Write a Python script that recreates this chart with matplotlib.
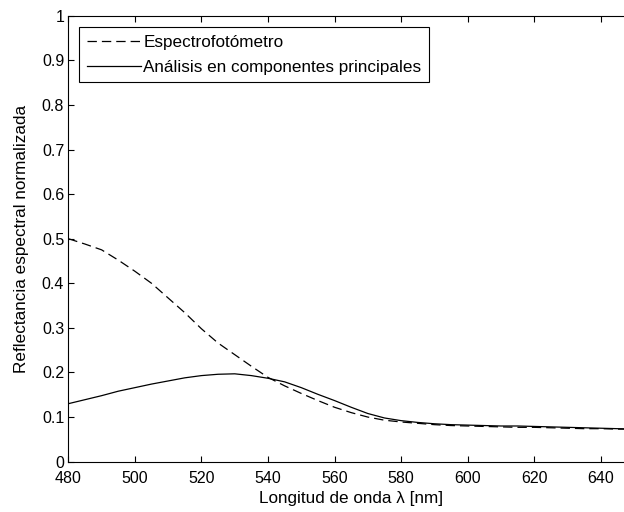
import matplotlib
matplotlib.use("Agg")
import matplotlib.pyplot as plt

plt.rcParams['font.family'] = ['Liberation Sans', 'DejaVu Sans']

wavelength = [480, 485, 490, 495, 500, 505, 510, 515, 520, 525, 530, 535,
              540, 545, 550, 555, 560, 565, 570, 575, 580, 585, 590, 595,
              600, 605, 610, 615, 620, 625, 630, 635, 640, 645, 650]

espectro = [0.500, 0.488, 0.475, 0.452, 0.427, 0.400, 0.367, 0.334, 0.298,
            0.266, 0.240, 0.214, 0.189, 0.170, 0.153, 0.137, 0.122, 0.110,
            0.100, 0.093, 0.089, 0.086, 0.083, 0.081, 0.080, 0.079, 0.078,
            0.077, 0.077, 0.076, 0.075, 0.074, 0.074, 0.073, 0.073]

pca = [0.130, 0.139, 0.148, 0.158, 0.166, 0.174, 0.181, 0.188, 0.193,
       0.196, 0.197, 0.193, 0.187, 0.179, 0.166, 0.151, 0.137, 0.122,
       0.108, 0.098, 0.092, 0.088, 0.085, 0.083, 0.082, 0.081, 0.080,
       0.080, 0.079, 0.078, 0.077, 0.076, 0.075, 0.074, 0.073]

x_ticks = [480, 500, 520, 540, 560, 580, 600, 620, 640]
y_ticks = [0, 0.1, 0.2, 0.3, 0.4, 0.5, 0.6, 0.7, 0.8, 0.9, 1]
y_tick_labels = ['0', '0.1', '0.2', '0.3', '0.4', '0.5', '0.6', '0.7', '0.8', '0.9', '1']

fig = plt.figure(figsize=(6.24, 5.12), dpi=100)
ax = fig.add_axes([0.1095, 0.0983, 0.9066, 0.871])

ax.plot(wavelength, espectro, color='black', lw=0.9, dashes=[7.5, 4],
        label='Espectrofotómetro')
ax.plot(wavelength, pca, color='black', lw=0.9,
        label='Análisis en componentes principales')

ax.set_xlim(480, 650)
ax.set_ylim(0, 1)
ax.set_xticks(x_ticks)
ax.set_yticks(y_ticks)
ax.set_yticklabels(y_tick_labels)
ax.tick_params(direction='in', length=4, width=0.8, top=True, right=True,
               labelsize=11.5, pad=3)
ax.tick_params(axis='x', pad=6.5)
for s in ax.spines.values():
    s.set_linewidth(0.8)

ax.set_xlabel('Longitud de onda λ [nm]', fontsize=12.3, labelpad=4)
ax.set_ylabel('Reflectancia espectral normalizada', fontsize=12.3, labelpad=9)

leg = ax.legend(loc='upper left', bbox_to_anchor=(0.019, 0.975), fontsize=12.3,
                fancybox=False, framealpha=1, edgecolor='black',
                handlelength=3.2, handletextpad=0.1, borderpad=0.45,
                labelspacing=0.6, borderaxespad=0)
leg.get_frame().set_linewidth(0.8)

fig.savefig('out.png', dpi=100)
